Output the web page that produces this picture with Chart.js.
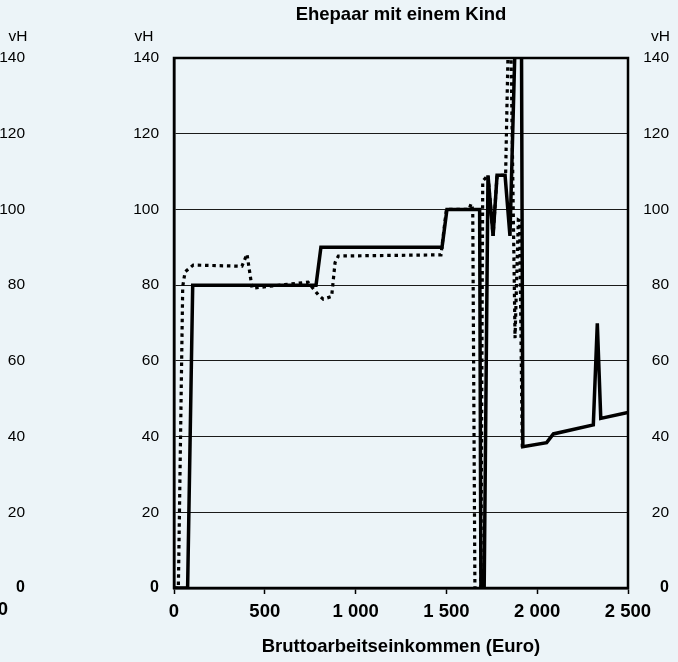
<!DOCTYPE html>
<html><head><meta charset="utf-8">
<script src="https://cdn.jsdelivr.net/npm/chart.js@4/dist/chart.umd.min.js"></script>
<style>
html,body{margin:0;padding:0;background:#ecf4f8;}
#wrap{position:relative;width:678px;height:662px;}
canvas{display:block;}
</style></head><body>
<div id="wrap"><canvas id="c" width="678" height="662"></canvas></div>
<script>
const chartTitle = 'Ehepaar mit einem Kind';
const xTitle = 'Bruttoarbeitseinkommen (Euro)';
const unitLabel = 'vH';
const xTicks = [0, 500, 1000, 1500, 2000, 2500];
const yTicks = [0, 20, 40, 60, 80, 100, 120, 140];

const solidX = [0, 75, 103, 782, 809, 1476, 1503, 1683, 1690, 1708, 1729, 1757, 1779, 1823, 1850, 1890, 1912, 1921, 2052, 2089, 2309, 2331, 2350, 2500];
const solidY = [0, 0, 80, 80, 90, 90, 100, 100, 0, 0, 109, 93, 109, 109, 93, 165, 165, 37.3, 38.4, 40.7, 43.1, 69.9, 44.8, 46.4];

const dottedX = [0, 24, 48, 61, 106, 374, 402, 430, 738, 795, 822, 868, 887, 905, 1470, 1500, 1625, 1636, 1645, 1657, 1690, 1700, 1729, 1757, 1779, 1826, 1849, 1878, 1896, 1903, 1918];
const dottedY = [0, 0, 79.6, 83.5, 85.3, 85, 88.2, 79.2, 80.8, 77.4, 76.3, 77, 86, 87.7, 88, 100, 100, 101.5, 100, 0, 0, 107.5, 109, 93, 109, 109, 165, 66, 97.2, 97, 37];

const FONT = "'Liberation Sans', Arial, Helvetica, sans-serif";
const fmt = v => v >= 1000 ? Math.floor(v / 1000) + ' ' + String(v % 1000).padStart(3, '0') : String(v);
const toPts = (xs, ys) => xs.map((x, i) => ({x: x, y: ys[i]}));

const extras = {
  id: 'extras',
  afterDatasetsDraw(chart) {
    const {ctx, chartArea: a} = chart;
    ctx.save();
    ctx.strokeStyle = '#000';
    ctx.lineWidth = 2.5;
    ctx.strokeRect(a.left, a.top, a.right - a.left, a.bottom - a.top);
    ctx.restore();
  },
  afterDraw(chart) {
    const {ctx} = chart;
    const ys = chart.scales.y;
    ctx.save();
    ctx.fillStyle = '#000';
    ctx.textBaseline = 'middle';
    ctx.textAlign = 'right';
    yTicks.forEach(v => {
      ctx.font = v === 0 ? `bold 16px ${FONT}` : `15.5px ${FONT}`;
      ctx.fillText(String(v), 25, ys.getPixelForValue(v));
    });
    ctx.font = `15.5px ${FONT}`;
    ctx.textAlign = 'center';
    ctx.fillText(unitLabel, 18, 37);
    ctx.fillText(unitLabel, 144, 37);
    ctx.textAlign = 'right';
    ctx.fillText(unitLabel, 670, 37);
    ctx.font = `bold 18.5px ${FONT}`;
    ctx.textAlign = 'center';
    ctx.fillText(fmt(xTicks[0]), 3, 610);
    ctx.restore();
  }
};

const yTickFont = ctx => (ctx.tick && ctx.tick.value === 0) ? {family: FONT, size: 16, weight: 'bold'} : {family: FONT, size: 15.5};

new Chart(document.getElementById('c'), {
  type: 'line',
  data: {
    datasets: [
      {label: 'A', data: toPts(solidX, solidY), borderColor: '#000', borderWidth: 3.5, pointRadius: 0, tension: 0, fill: false},
      {label: 'B', data: toPts(dottedX, dottedY), borderColor: '#000', borderWidth: 3.2, borderDash: [3.5, 3.8], borderCapStyle: 'butt', pointRadius: 0, tension: 0, fill: false}
    ]
  },
  options: {
    responsive: false,
    animation: false,
    devicePixelRatio: 1,
    layout: {padding: {top: 0, right: 9, bottom: 0, left: 0}},
    plugins: {
      legend: {display: false},
      tooltip: {enabled: false},
      title: {display: true, text: chartTitle, fullSize: false, color: '#000', font: {family: FONT, size: 18.5, weight: 'bold'}, padding: {top: 4, bottom: 31.8}}
    },
    scales: {
      x: {
        type: 'linear', min: 0, max: 2500,
        afterBuildTicks: s => { s.ticks = xTicks.map(v => ({value: v})); },
        ticks: {callback: v => fmt(v), color: '#000', font: {family: FONT, size: 18.5, weight: 'bold'}, padding: 7, maxRotation: 0, autoSkip: false},
        grid: {drawOnChartArea: false, drawTicks: true, tickLength: 6, tickColor: '#000', tickWidth: 1.5},
        border: {display: true, color: '#000', width: 2.5},
        title: {display: true, text: xTitle, color: '#000', font: {family: FONT, size: 18.5, weight: 'bold'}, padding: {top: 0, bottom: 4}},
        afterFit: s => { s.height = 74; }
      },
      y: {
        position: 'left', min: 0, max: 140,
        afterBuildTicks: s => { s.ticks = yTicks.map(v => ({value: v})); },
        ticks: {color: '#000', font: yTickFont, padding: 15},
        grid: {color: '#1a1a1a', lineWidth: 1, drawTicks: false},
        border: {display: true, color: '#000', width: 2.5},
        afterFit: s => { s.width = 174; }
      },
      y2: {
        position: 'right', min: 0, max: 140,
        afterBuildTicks: s => { s.ticks = yTicks.map(v => ({value: v})); },
        ticks: {color: '#000', font: yTickFont, crossAlign: 'far'},
        grid: {drawOnChartArea: false, drawTicks: false},
        border: {display: false},
        afterFit: s => { s.width = 41; }
      }
    }
  },
  plugins: [extras]
});
</script>
</body></html>
